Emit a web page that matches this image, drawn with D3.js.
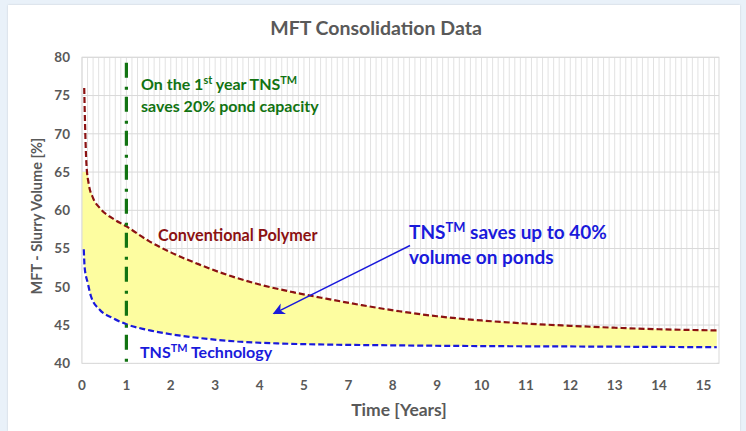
<!DOCTYPE html>
<html>
<head>
<meta charset="utf-8">
<script src="https://cdn.jsdelivr.net/npm/d3@7"></script>
<style>
  body { margin: 0; background: #e9f1f9; }
  #chart { position: absolute; left: 8px; top: 5px; width: 732px; height: 426px; background: #fff;
           box-shadow: 0 0 2px rgba(0,0,0,0.15); }
  svg { position: absolute; left: 0; top: 0; }
  text { font-family: Lato, "Open Sans", sans-serif; font-weight: bold; }
</style>
</head>
<body>
<div id="chart"></div>
<script>
// x position index -> shown label (the original axis skips 6)
var xTickLabels = ["0", "1", "2", "3", "4", "5", "7", "8", "9", "10", "11", "12", "13", "14", "15"];
var yTicks = [40, 45, 50, 55, 60, 65, 70, 75, 80];

// curves: [x index, volume %]
var conventional = [[0.05, 76], [0.07, 71], [0.1, 66], [0.15, 63.5], [0.25, 61.6], [0.4, 60.3],
                    [0.7, 58.9], [1, 57.9], [1.5, 56], [2, 54.5], [2.65, 52.9], [3.25, 51.6],
                    [4, 50.3], [4.75, 49.3], [5.5, 48.45], [6.3, 47.6], [7.15, 46.8], [8, 46.15],
                    [9, 45.6], [10, 45.2], [11, 44.9], [12, 44.65], [13, 44.45], [14.3, 44.3]];
var tns = [[0.04, 54.9], [0.06, 52.5], [0.13, 50.5], [0.2, 48.8], [0.4, 47], [0.7, 45.9],
           [1, 45.1], [1.45, 44.4], [2, 43.8], [2.65, 43.3], [3.5, 42.85], [4.4, 42.6],
           [5.5, 42.45], [7, 42.35], [9, 42.25], [11, 42.2], [14.3, 42.1]];
var fillCap = 65;       // shaded band does not go above this
var firstYear = 1;      // green marker line
var arrowFrom = [7.39, 55.4], arrowTo = [4.32, 46.5];

var width = 746, height = 431;
var plot = {left: 82, right: 719, top: 57.3, bottom: 363.3};

var svg = d3.select("body").append("svg")
            .attr("width", width)
            .attr("height", height);

var x = d3.scaleLinear().domain([0, 14.35]).range([plot.left, plot.right]);
var y = d3.scaleLinear().domain([40, 80]).range([plot.bottom, plot.top]);

// minor vertical grid (8 per year)
var minor = d3.range(0, 14.35, 0.125);
svg.append("g").selectAll("line").data(minor).enter().append("line")
   .attr("x1", function(d) { return x(d); })
   .attr("x2", function(d) { return x(d); })
   .attr("y1", plot.top).attr("y2", plot.bottom)
   .attr("stroke", "#e2e2e2").attr("stroke-width", 1);

svg.append("g").selectAll("line").data(yTicks).enter().append("line")
   .attr("x1", plot.left).attr("x2", plot.right)
   .attr("y1", function(d) { return y(d); })
   .attr("y2", function(d) { return y(d); })
   .attr("stroke", "#d9d9d9").attr("stroke-width", 1);

// value of a curve at xv (linear between read points)
function valueAt(data, xv) {
    if (xv <= data[0][0]) return data[0][1];
    for (var i = 1; i < data.length; i++) {
        if (xv <= data[i][0]) {
            var a = data[i - 1], b = data[i];
            return a[1] + (b[1] - a[1]) * (xv - a[0]) / (b[0] - a[0]);
        }
    }
    return data[data.length - 1][1];
}

var xs = [0].concat(conventional.map(function(d) { return d[0]; }), tns.map(function(d) { return d[0]; }))
            .sort(function(a, b) { return a - b; });
var band = xs.map(function(v) {
    return {x: v, lo: valueAt(tns, v), hi: Math.min(fillCap, valueAt(conventional, v))};
});

// white under the TNS curve hides the grid there
svg.append("path")
   .datum(band)
   .attr("d", d3.area().curve(d3.curveMonotoneX)
               .x(function(d) { return x(d.x); })
               .y0(y(40)).y1(function(d) { return y(d.lo); }))
   .attr("fill", "#fff");

svg.append("path")
   .datum(band)
   .attr("d", d3.area().curve(d3.curveMonotoneX)
               .x(function(d) { return x(d.x); })
               .y0(function(d) { return y(d.lo); })
               .y1(function(d) { return y(d.hi); }))
   .attr("fill", "#fdfda0");

svg.append("rect")
   .attr("x", plot.left).attr("y", plot.top)
   .attr("width", plot.right - plot.left).attr("height", plot.bottom - plot.top)
   .attr("fill", "none").attr("stroke", "#d9d9d9");

var line = d3.line().curve(d3.curveMonotoneX)
             .x(function(d) { return x(d[0]); })
             .y(function(d) { return y(d[1]); });

svg.append("path").datum(conventional).attr("d", line)
   .attr("fill", "none").attr("stroke", "#8b1212")
   .attr("stroke-width", 2.2).attr("stroke-dasharray", "6,3");

svg.append("path").datum(tns).attr("d", line)
   .attr("fill", "none").attr("stroke", "#1a1adb")
   .attr("stroke-width", 2.2).attr("stroke-dasharray", "6,3");

svg.append("line")
   .attr("x1", x(firstYear)).attr("x2", x(firstYear))
   .attr("y1", y(79.3)).attr("y2", plot.bottom)
   .attr("stroke", "#127312").attr("stroke-width", 3.2)
   .attr("stroke-dasharray", "15,9,3,7");

// axes
var yAxis = svg.append("g").attr("class", "y-axis");
yAxis.selectAll("text").data(yTicks).enter().append("text")
     .attr("x", 70).attr("y", function(d) { return y(d); })
     .attr("dy", "0.35em").attr("text-anchor", "end")
     .attr("font-size", "13.5px").attr("fill", "#595959")
     .text(function(d) { return d; });

var xAxis = svg.append("g").attr("class", "x-axis");
xAxis.selectAll("text").data(xTickLabels).enter().append("text")
     .attr("x", function(d, i) { return x(i); }).attr("y", 385)
     .attr("dy", "0.35em").attr("text-anchor", "middle")
     .attr("font-size", "13.5px").attr("fill", "#595959")
     .text(function(d) { return d; });

svg.append("text")
   .attr("x", 376).attr("y", 35).attr("text-anchor", "middle")
   .attr("font-size", "19.5px").attr("fill", "#595959")
   .text("MFT Consolidation Data");

svg.append("text")
   .attr("x", 399).attr("y", 416).attr("text-anchor", "middle")
   .attr("font-size", "17.5px").attr("fill", "#595959")
   .text("Time [Years]");

svg.append("text")
   .attr("transform", "translate(42,216) rotate(-90)")
   .attr("text-anchor", "middle")
   .attr("font-size", "14.5px").attr("fill", "#595959")
   .text("MFT - Slurry Volume [%]");

// annotation text; {s: ".."} parts are superscripts
function label(xp, yp, parts, size, color) {
    var t = svg.append("text").attr("x", xp).attr("y", yp)
               .attr("font-size", size + "px").attr("fill", color);
    parts.forEach(function(p) {
        if (typeof p === "object") {
            t.append("tspan").attr("baseline-shift", (size * 0.38) + "px")
             .attr("font-size", (size * 0.68) + "px").text(p.s);
        } else {
            t.append("tspan").text(p);
        }
    });
    return t;
}

label(141, 90, ["On the 1", {s: "st"}, " year TNS", {s: "TM"}], 16, "#127312");
label(141, 112, ["saves 20% pond capacity"], 16, "#127312");
label(158, 241, ["Conventional Polymer"], 16.2, "#8b1212");
label(140, 358, ["TNS", {s: "TM"}, " Technology"], 16, "#1a1adb");
label(409, 239, ["TNS", {s: "TM"}, " saves up to 40%"], 19, "#1a1adb");
label(409, 264, ["volume on ponds"], 19, "#1a1adb");

svg.append("defs").append("marker")
   .attr("id", "head").attr("viewBox", "0 0 10 10")
   .attr("refX", 9).attr("refY", 5)
   .attr("markerWidth", 12).attr("markerHeight", 12)
   .attr("markerUnits", "userSpaceOnUse")
   .attr("orient", "auto")
   .append("path").attr("d", "M0,0 L10,5 L0,10 L3,5 Z").attr("fill", "#1a1adb");

svg.append("line")
   .attr("x1", x(arrowFrom[0])).attr("y1", y(arrowFrom[1]))
   .attr("x2", x(arrowTo[0])).attr("y2", y(arrowTo[1]))
   .attr("stroke", "#1a1adb").attr("stroke-width", 1.5)
   .attr("marker-end", "url(#head)");
</script>
</body>
</html>
